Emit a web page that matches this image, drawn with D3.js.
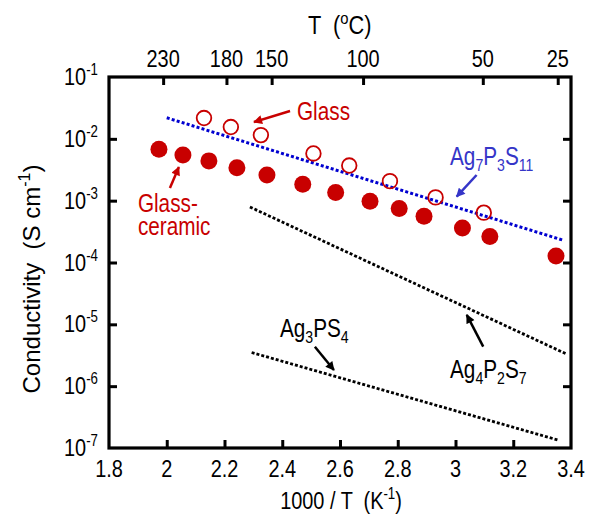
<!DOCTYPE html>
<html>
<head>
<meta charset="utf-8">
<script src="https://cdn.jsdelivr.net/npm/d3@7"></script>
<style>
html,body{margin:0;padding:0;background:#fff;}
text{font-family:"Liberation Sans",Arial,sans-serif;white-space:pre;}
</style>
</head>
<body>
<svg id="chart" width="596" height="518"></svg>
<script>
// ---- data ----
const xTicks = [1.8, 2, 2.2, 2.4, 2.6, 2.8, 3, 3.2, 3.4];
const celsiusTicks = [230, 180, 150, 100, 50, 25];
const yExponents = [-1, -2, -3, -4, -5, -6, -7];

const glassCeramicX = [1.973, 2.056, 2.146, 2.243, 2.347, 2.471, 2.585, 2.704, 2.805, 2.891, 3.024, 3.119, 3.348];
const glassCeramicY = [6.8e-3, 5.5e-3, 4.4e-3, 3.4e-3, 2.6e-3, 1.84e-3, 1.36e-3, 9.8e-4, 7.5e-4, 5.6e-4, 3.6e-4, 2.64e-4, 1.27e-4];

const glassX = [2.129, 2.222, 2.326, 2.508, 2.632, 2.773, 2.931, 3.098];
const glassY = [2.17e-2, 1.55e-2, 1.15e-2, 5.8e-3, 3.7e-3, 2.07e-3, 1.13e-3, 6.4e-4];

const ag7p3s11X = [2.0, 3.372];
const ag7p3s11Y = [2.19e-2, 2.3e-4];
const ag4p2s7X = [2.288, 3.385];
const ag4p2s7Y = [7.9e-4, 3.3e-6];
const ag3ps4X = [2.294, 3.356];
const ag3ps4Y = [3.5e-6, 1.34e-7];

// annotation anchors (data units)
const labels = [
  {parts:[["Glass",""]], x:2.451, y:2.02e-2, color:"#c80000"},
  {parts:[["Ag",""],["7","sub"],["P",""],["3","sub"],["S",""],["11","sub"]], x:2.981, y:3.78e-3, color:"#3535c8"},
  {parts:[["Ag",""],["4","sub"],["P",""],["2","sub"],["S",""],["7","sub"]], x:2.981, y:1.36e-6, color:"#000"},
  {parts:[["Ag",""],["3","sub"],["PS",""],["4","sub"]], x:2.392, y:6.3e-6, color:"#000"},
  {parts:[["Glass-",""],["ceramic","newline"]], x:1.900, y:6.56e-4, color:"#c80000"}
];
const arrows = [
  {x1:2.427, y1:2.82e-2, x2:2.302, y2:1.87e-2, color:"#c80000"},
  {x1:2.011, y1:1.60e-3, x2:2.042, y2:3.5e-3, color:"#c80000"},
  {x1:3.073, y1:2.60e-3, x2:3.004, y2:1.16e-3, color:"#3535c8"},
  {x1:3.096, y1:4.35e-6, x2:3.039, y2:1.42e-5, color:"#000"},
  {x1:2.513, y1:4.35e-6, x2:2.579, y2:1.82e-6, color:"#000"}
];

// ---- layout ----
const svg = d3.select("#chart");
const m = {left:109, top:77};
const w = 462, h = 371;
const g = svg.append("g").attr("transform", `translate(${m.left},${m.top})`);

const x = d3.scaleLinear().domain([1.8, 3.4]).range([0, w]);
const y = d3.scaleLog().domain([1e-7, 1e-1]).range([h, 0]);

const red = "#c80000";
const NARROW = 0.83;

// text helper: narrow (condensed) text anchored at px,py
function addText(parent, px, py, size, anchor, color, sx) {
  return parent.append("text")
    .attr("transform", `translate(${px},${py}) scale(${sx == null ? NARROW : sx},1)`)
    .attr("font-size", size).attr("text-anchor", anchor || "start").attr("fill", color || "#000");
}

// arrow markers
const colors = ["#c80000","#3535c8","#000"];
const defs = svg.append("defs");
colors.forEach((c,i)=>{
  defs.append("marker").attr("id","ah"+i).attr("viewBox","0 0 10 10")
    .attr("refX",9).attr("refY",5).attr("markerWidth",4).attr("markerHeight",3.6)
    .attr("markerUnits","strokeWidth").attr("orient","auto")
    .append("path").attr("d","M0,0 L10,5 L0,10 Z").attr("fill",c);
});
const markerFor = c => "url(#ah" + colors.indexOf(c) + ")";

// ---- axes ----
const fs = 24;
const bottomAxis = d3.axisBottom(x).tickValues(xTicks.slice(1, -1)).tickSize(-8).tickFormat("");
const gb = g.append("g").attr("transform", `translate(0,${h})`).call(bottomAxis);
const topAxis = d3.axisTop(x).tickValues(celsiusTicks.map(c => 1000 / (c + 273.15))).tickSize(-8).tickFormat("");
const gt = g.append("g").call(topAxis);
const yTickVals = yExponents.slice(1, -1).map(e => Math.pow(10, e));
const gl = g.append("g").call(d3.axisLeft(y).tickValues(yTickVals).tickSize(-8).tickFormat(""));
const gr = g.append("g").attr("transform", `translate(${w},0)`).call(d3.axisRight(y).tickValues(yTickVals).tickSize(-8).tickFormat(""));

[gb, gt, gl, gr].forEach(a => {
  a.select(".domain").remove();
  a.selectAll(".tick line").attr("stroke", "#000").attr("stroke-width", 3);
});

// bottom tick labels
xTicks.forEach(v => {
  addText(g, x(v), h + 29, fs, "middle").text(d3.format("~g")(v));
});
// top tick labels (deg C)
celsiusTicks.forEach(c => {
  addText(g, x(1000 / (c + 273.15)), -10, fs, "middle").text(c);
});
// y tick labels 10^n
yExponents.forEach(e => {
  const t = addText(g, -11, y(Math.pow(10, e)) + 8, fs, "end");
  t.append("tspan").text("10");
  t.append("tspan").attr("font-size", 16).attr("dy", -10).text(String(e));
});

// frame
g.append("rect").attr("x", 0).attr("y", 0).attr("width", w).attr("height", h)
  .attr("fill", "none").attr("stroke", "#000").attr("stroke-width", 3.2);

// axis titles
const xt = addText(svg, 341, 509, fs, "middle");
xt.append("tspan").text("1000 / T  (K");
xt.append("tspan").attr("font-size",16).attr("dy",-10).text("-1");
xt.append("tspan").attr("dy",10).text(")");

const tt = addText(svg, 308, 34, 25, "start", "#000", 0.87);
tt.append("tspan").text("T  (");
tt.append("tspan").attr("font-size",17).attr("dy",-10).text("o");
tt.append("tspan").attr("dy",10).text("C)");

const yt = svg.append("text").attr("transform","translate(40,279) rotate(-90)").attr("text-anchor","middle").attr("font-size", 24);
yt.append("tspan").text("Conductivity  (S cm");
yt.append("tspan").attr("font-size",16).attr("dy",-10).text("-1");
yt.append("tspan").attr("dy",10).text(")");

// ---- lines ----
const line = d3.line().x(d => x(d[0])).y(d => y(d[1]));
g.append("path").datum(d3.zip(ag7p3s11X, ag7p3s11Y)).attr("d", line)
  .attr("fill","none").attr("stroke","#0000d0").attr("stroke-width",3).attr("stroke-dasharray","3,2.2");
g.append("path").datum(d3.zip(ag4p2s7X, ag4p2s7Y)).attr("d", line)
  .attr("fill","none").attr("stroke","#000").attr("stroke-width",2.8).attr("stroke-dasharray","3,2");
g.append("path").datum(d3.zip(ag3ps4X, ag3ps4Y)).attr("d", line)
  .attr("fill","none").attr("stroke","#000").attr("stroke-width",2.8).attr("stroke-dasharray","3,2");

// ---- points ----
g.append("g").selectAll("circle").data(d3.zip(glassCeramicX, glassCeramicY)).join("circle")
  .attr("cx", d => x(d[0])).attr("cy", d => y(d[1])).attr("r", 8.5).attr("fill", red);
g.append("g").selectAll("circle").data(d3.zip(glassX, glassY)).join("circle")
  .attr("cx", d => x(d[0])).attr("cy", d => y(d[1])).attr("r", 7.3)
  .attr("fill", "none").attr("stroke", red).attr("stroke-width", 1.8);

// ---- annotations ----
arrows.forEach(a => {
  g.append("line").attr("x1", x(a.x1)).attr("y1", y(a.y1)).attr("x2", x(a.x2)).attr("y2", y(a.y2))
    .attr("stroke", a.color).attr("stroke-width", 2.5).attr("marker-end", markerFor(a.color));
});
labels.forEach(l => {
  const t = addText(g, x(l.x), y(l.y), 25, "start", l.color);
  let prevSub = false;
  l.parts.forEach(([s, kind]) => {
    const sp = t.append("tspan").text(s);
    if (kind === "newline") { sp.attr("x", 0).attr("dy", 23); prevSub = false; }
    else if (kind === "sub") { sp.attr("font-size", 17).attr("dy", prevSub ? 0 : 6); prevSub = true; }
    else { if (prevSub) sp.attr("dy", -6); prevSub = false; }
  });
});
</script>
</body>
</html>
